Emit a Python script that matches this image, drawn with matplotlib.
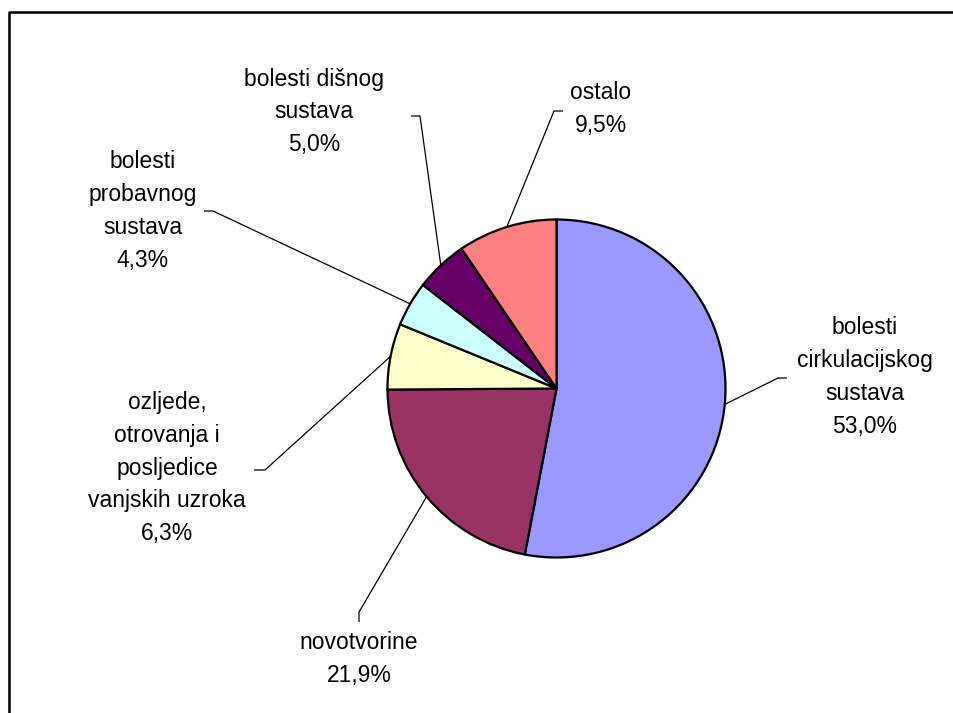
import matplotlib
matplotlib.use("Agg")
import matplotlib.pyplot as plt
import numpy as np

# ---- data ----
categories = ["bolesti\ncirkulacijskog\nsustava", "novotvorine",
              "ozljede,\notrovanja i\nposljedice\nvanjskih uzroka",
              "bolesti\nprobavnog\nsustava", "bolesti dišnog\nsustava", "ostalo"]
values = [53.0, 21.9, 6.3, 4.3, 5.0, 9.5]
colors = ["#9999FF", "#993366", "#FFFFCC", "#CCFFFF", "#660066", "#FF8080"]

# ---- layout (pixel coordinates of the 954x713 image) ----
W, H = 954, 713
center_px = (556.5, 388.5)
radius_px = 169
# label text centre, leader elbow, leader end (near text)
label_pos = [(865, 377), (359, 659), (167, 468), (143, 211), (314, 112), (601, 109)]
elbow_pos = [(778, 378), (359, 612), (265, 470), (213, 211), (420, 116), (554, 111)]
end_pos = [(787, 378), (359, 622), (254, 470), (204, 211), (411, 116), (563, 111)]

def Y(p):
    return H - p

fig = plt.figure(figsize=(W / 100, H / 100), dpi=100)
ax = fig.add_axes([0, 0, 1, 1])
ax.set_axis_off()

wedges, _ = ax.pie(values, colors=colors, startangle=90, counterclock=False,
                   center=(center_px[0], Y(center_px[1])), radius=radius_px,
                   wedgeprops=dict(edgecolor="black", linewidth=1.6))
ax.set_xlim(0, W)
ax.set_ylim(0, H)
ax.set_aspect("equal")

font = dict(family=["Liberation Sans", "DejaVu Sans"], size=16.5)
for w, name, v, lp, ep, tp in zip(wedges, categories, values, label_pos, elbow_pos, end_pos):
    mid = np.deg2rad((w.theta1 + w.theta2) / 2)
    sx = center_px[0] + radius_px * np.cos(mid)
    sy = Y(center_px[1]) + radius_px * np.sin(mid)
    ax.plot([sx, ep[0], tp[0]], [sy, Y(ep[1]), Y(tp[1])], color="black", lw=0.9,
            solid_capstyle="butt")
    txt = f"{name}\n{v:.1f}%".replace(".", ",")
    ax.text(lp[0], Y(lp[1]), txt, ha="center", va="center", multialignment="center",
            linespacing=1.55, **font)

# outer frame (left and top edges only visible)
ax.plot([9, 9, W + 5], [-5, Y(12), Y(12)], color="black", lw=1.8, clip_on=False)

fig.savefig("out.png", dpi=100, facecolor="white")
